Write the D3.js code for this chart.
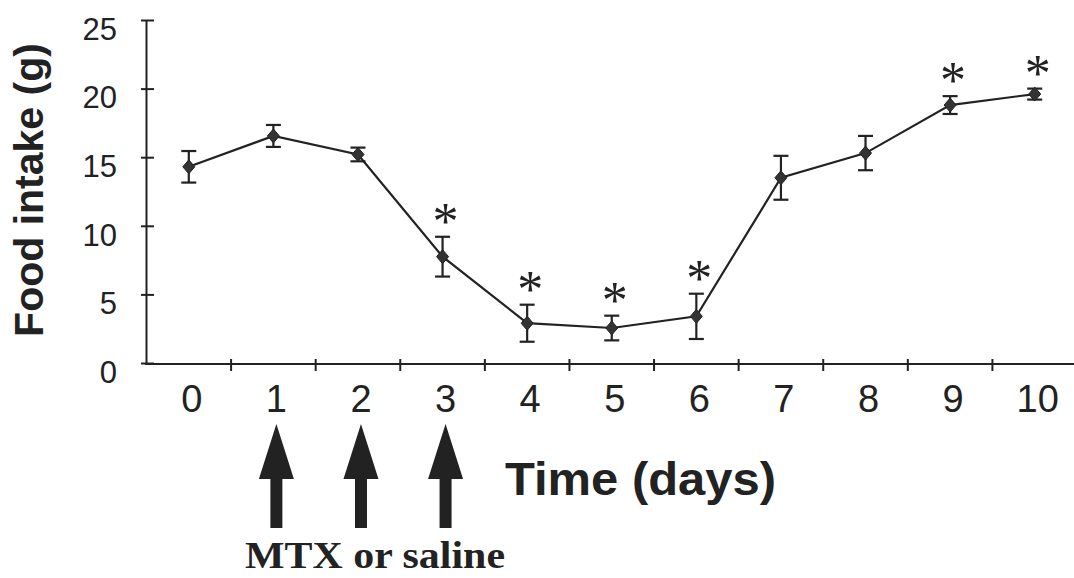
<!DOCTYPE html>
<html>
<head>
<meta charset="utf-8">
<script src="https://cdn.jsdelivr.net/npm/d3@7"></script>
<style>
  html, body { margin: 0; padding: 0; background: #fff; }
  svg { display: block; }
</style>
</head>
<body>
<svg id="chart" width="1074" height="578"></svg>
<script>
// ---- data ----
const days = [0, 1, 2, 3, 4, 5, 6, 7, 8, 9, 10];
const foodIntake = [14.3, 16.55, 15.2, 7.75, 2.9, 2.55, 3.4, 13.5, 15.3, 18.8, 19.6];
const sem = [1.15, 0.8, 0.5, 1.45, 1.35, 0.9, 1.65, 1.6, 1.25, 0.65, 0.4];
const significant = [false, false, false, true, true, true, true, false, false, true, true];
const yTicks = [0, 5, 10, 15, 20, 25];
const treatmentDays = [1, 2, 3];
const yTitle = "Food intake (g)";
const xTitle = "Time (days)";
const treatmentLabel = "MTX or saline";

const ink = "#222";
const svg = d3.select("#chart");

const x = d3.scaleBand().domain(days).range([146.5, 1077]).paddingInner(0).paddingOuter(0);
const cx = d => x(d) + x.bandwidth() / 2;
const y = d3.scaleLinear().domain([0, 25]).range([363, 20]);

// ---- y axis ----
const yAxis = svg.append("g").attr("transform", "translate(146,0)")
  .call(d3.axisLeft(y).tickValues(yTicks).tickSize(5).tickPadding(24).tickSizeOuter(0));
yAxis.select(".domain").attr("stroke", ink).attr("stroke-width", 2);
yAxis.selectAll(".tick line").attr("stroke", ink).attr("stroke-width", 2).attr("x2", -5).attr("x1", 8);
yAxis.selectAll(".tick text")
  .attr("fill", ink).attr("font-family", "'Liberation Sans', Arial, sans-serif")
  .attr("font-size", 31).attr("dy", "0.62em").attr("x", -29);

// ---- x axis ----
const xAxisY = 364;
const xg = svg.append("g");
xg.append("line").attr("x1", 145).attr("x2", 1074).attr("y1", xAxisY).attr("y2", xAxisY)
  .attr("stroke", ink).attr("stroke-width", 2);
xg.selectAll("line.xt").data(days.slice(1)).join("line").attr("class", "xt")
  .attr("x1", d => x(d)).attr("x2", d => x(d))
  .attr("y1", xAxisY - 5).attr("y2", xAxisY + 7)
  .attr("stroke", ink).attr("stroke-width", 2);
xg.selectAll("text.xl").data(days).join("text").attr("class", "xl")
  .attr("x", d => cx(d) + 3).attr("y", 412)
  .attr("text-anchor", "middle")
  .attr("font-family", "'Liberation Sans', Arial, sans-serif")
  .attr("font-size", 38).attr("fill", ink)
  .text(d => d);

// ---- line ----
const pts = days.map((d, i) => ({ d, v: foodIntake[i], e: sem[i], s: significant[i] }));
svg.append("path").datum(pts)
  .attr("fill", "none").attr("stroke", ink).attr("stroke-width", 2.2)
  .attr("d", d3.line().x(p => cx(p.d)).y(p => y(p.v)));

// ---- error bars ----
const eb = svg.append("g").attr("stroke", ink).attr("stroke-width", 2.2);
eb.selectAll("line.v").data(pts).join("line").attr("class", "v")
  .attr("x1", p => cx(p.d)).attr("x2", p => cx(p.d))
  .attr("y1", p => y(p.v + p.e)).attr("y2", p => y(p.v - p.e));
eb.selectAll("line.t").data(pts).join("line").attr("class", "t")
  .attr("x1", p => cx(p.d) - 7.5).attr("x2", p => cx(p.d) + 7.5)
  .attr("y1", p => y(p.v + p.e)).attr("y2", p => y(p.v + p.e));
eb.selectAll("line.b").data(pts).join("line").attr("class", "b")
  .attr("x1", p => cx(p.d) - 7.5).attr("x2", p => cx(p.d) + 7.5)
  .attr("y1", p => y(p.v - p.e)).attr("y2", p => y(p.v - p.e));

// ---- markers (diamonds) ----
svg.selectAll("path.mk").data(pts).join("path").attr("class", "mk")
  .attr("transform", p => `translate(${cx(p.d)},${y(p.v)})`)
  .attr("d", "M0,-7L6,0L0,7L-6,0Z")
  .attr("fill", "#333").attr("stroke", ink).attr("stroke-width", 1);

// ---- significance asterisks ----
svg.selectAll("text.ast").data(pts.filter(p => p.s)).join("text").attr("class", "ast")
  .attr("x", p => cx(p.d) + 3).attr("y", p => y(p.v + p.e) + 2)
  .attr("text-anchor", "middle")
  .attr("font-family", "'Liberation Serif', 'Times New Roman', serif")
  .attr("font-size", 52).attr("fill", ink)
  .text("*");

// ---- axis titles ----
svg.append("text")
  .attr("transform", "translate(43,190) rotate(-90)")
  .attr("text-anchor", "middle")
  .attr("font-family", "'Liberation Sans', Arial, sans-serif")
  .attr("font-weight", "bold").attr("font-size", 41).attr("fill", ink)
  .text(yTitle);

svg.append("text")
  .attr("x", 505).attr("y", 495)
  .attr("font-family", "'Liberation Sans', Arial, sans-serif")
  .attr("font-weight", "bold").attr("font-size", 46).attr("fill", ink)
  .attr("textLength", 271).attr("lengthAdjust", "spacingAndGlyphs")
  .text(xTitle);

// ---- treatment arrows ----
const ag = svg.append("g").attr("fill", ink);
ag.selectAll("path.arrow").data(treatmentDays).join("path").attr("class", "arrow")
  .attr("transform", d => `translate(${cx(d) + 3},0)`)
  .attr("d", "M0,424L17.5,479L6,479L6,528L-6,528L-6,479L-17.5,479Z");

svg.append("text")
  .attr("x", 245).attr("y", 568)
  .attr("font-family", "'Liberation Serif', 'Times New Roman', serif")
  .attr("font-weight", "bold").attr("font-size", 38).attr("fill", ink)
  .attr("textLength", 260).attr("lengthAdjust", "spacingAndGlyphs")
  .text(treatmentLabel);
</script>
</body>
</html>
